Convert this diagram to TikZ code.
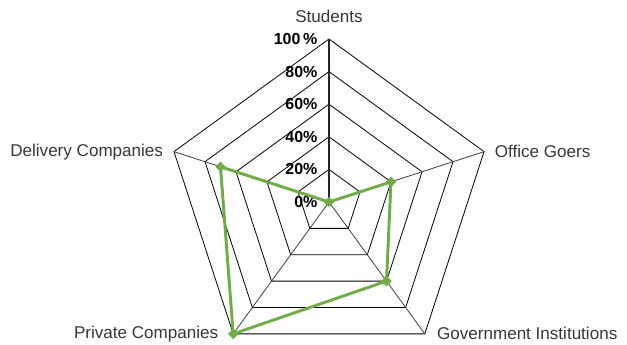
\documentclass[tikz,border=0pt]{standalone}
\usepackage{fontspec}
\setmainfont{Liberation Sans}
\usetikzlibrary{shapes.geometric}
\definecolor{seriesgreen}{RGB}{112,173,71}
\definecolor{labelgray}{RGB}{55,55,55}
\tikzset{
  ring/.style={black, line width=0.6pt},
  spoke/.style={black!75, line width=0.6pt},
  mainspoke/.style={black!85, line width=1.5pt},
  pctlabel/.style={anchor=east, inner sep=1pt, font=\fontsize{12}{13}\selectfont\bfseries},
  catlabel/.style={text=labelgray, inner sep=0pt, font=\fontsize{12.8}{15}\selectfont},
  series/.style={seriesgreen, line width=2.2pt, line join=round},
  marker/.style={diamond, fill=seriesgreen, inner sep=0pt, minimum size=8pt}
}
\begin{document}
\begin{tikzpicture}[x=0.75pt, y=0.75pt]
  \useasboundingbox (0,0) rectangle (627,344);
  \begin{scope}[shift={(329,142)}]
  % Rings
  \draw[ring] (90:32.6) -- (18:32.6) -- (-54:32.6) -- (-126:32.6) -- (162:32.6) -- cycle;
  \draw[ring] (90:65.2) -- (18:65.2) -- (-54:65.2) -- (-126:65.2) -- (162:65.2) -- cycle;
  \draw[ring] (90:97.8) -- (18:97.8) -- (-54:97.8) -- (-126:97.8) -- (162:97.8) -- cycle;
  \draw[ring] (90:130.4) -- (18:130.4) -- (-54:130.4) -- (-126:130.4) -- (162:130.4) -- cycle;
  \draw[ring] (90:163) -- (18:163) -- (-54:163) -- (-126:163) -- (162:163) -- cycle;

  % Axes
  \coordinate (center) at (0,0);
  \coordinate (students) at (90:163);
  \coordinate (office) at (18:163);
  \coordinate (govt) at (-54:163);
  \coordinate (private) at (-126:163);
  \coordinate (delivery) at (162:163);
  \draw[spoke] (center) -- (office);
  \draw[spoke] (center) -- (govt);
  \draw[spoke] (center) -- (private);
  \draw[spoke] (center) -- (delivery);
  \draw[mainspoke] (center) -- (students);

  % Scale
  \node[pctlabel] (p0) at (-10,0) {0\%};
  \node[pctlabel] (p20) at (-10,32.6) {20\%};
  \node[pctlabel] (p40) at (-10,65.2) {40\%};
  \node[pctlabel] (p60) at (-10,97.8) {60\%};
  \node[pctlabel] (p80) at (-10,130.4) {80\%};
  \node[pctlabel] (p100) at (-10,163) {100\,\%};

  % Categories
  \node[catlabel, anchor=south] (lstudents) at ([yshift=12]students) {Students};
  \node[catlabel, anchor=west] (loffice) at ([xshift=8]office) {Office Goers};
  \node[catlabel, anchor=west] (lgovt) at ([xshift=9]govt) {Government Institutions};
  \node[catlabel, anchor=east] (lprivate) at ([xshift=-11]private) {Private Companies};
  \node[catlabel, anchor=east] (ldelivery) at ([xshift=-8]delivery) {Delivery Companies};

  % Series
  \node[marker] (dstudents) at (90:0) {};
  \node[marker] (doffice) at (18:65.2) {};
  \node[marker] (dgovt) at (-54:97.8) {};
  \node[marker] (dprivate) at (-126:163) {};
  \node[marker] (ddelivery) at (162:114.1) {};
  \draw[series] (dstudents.center) -- (doffice.center) -- (dgovt.center)
    -- (dprivate.center) -- (ddelivery.center) -- cycle;
  \end{scope}
\end{tikzpicture}
\end{document}
